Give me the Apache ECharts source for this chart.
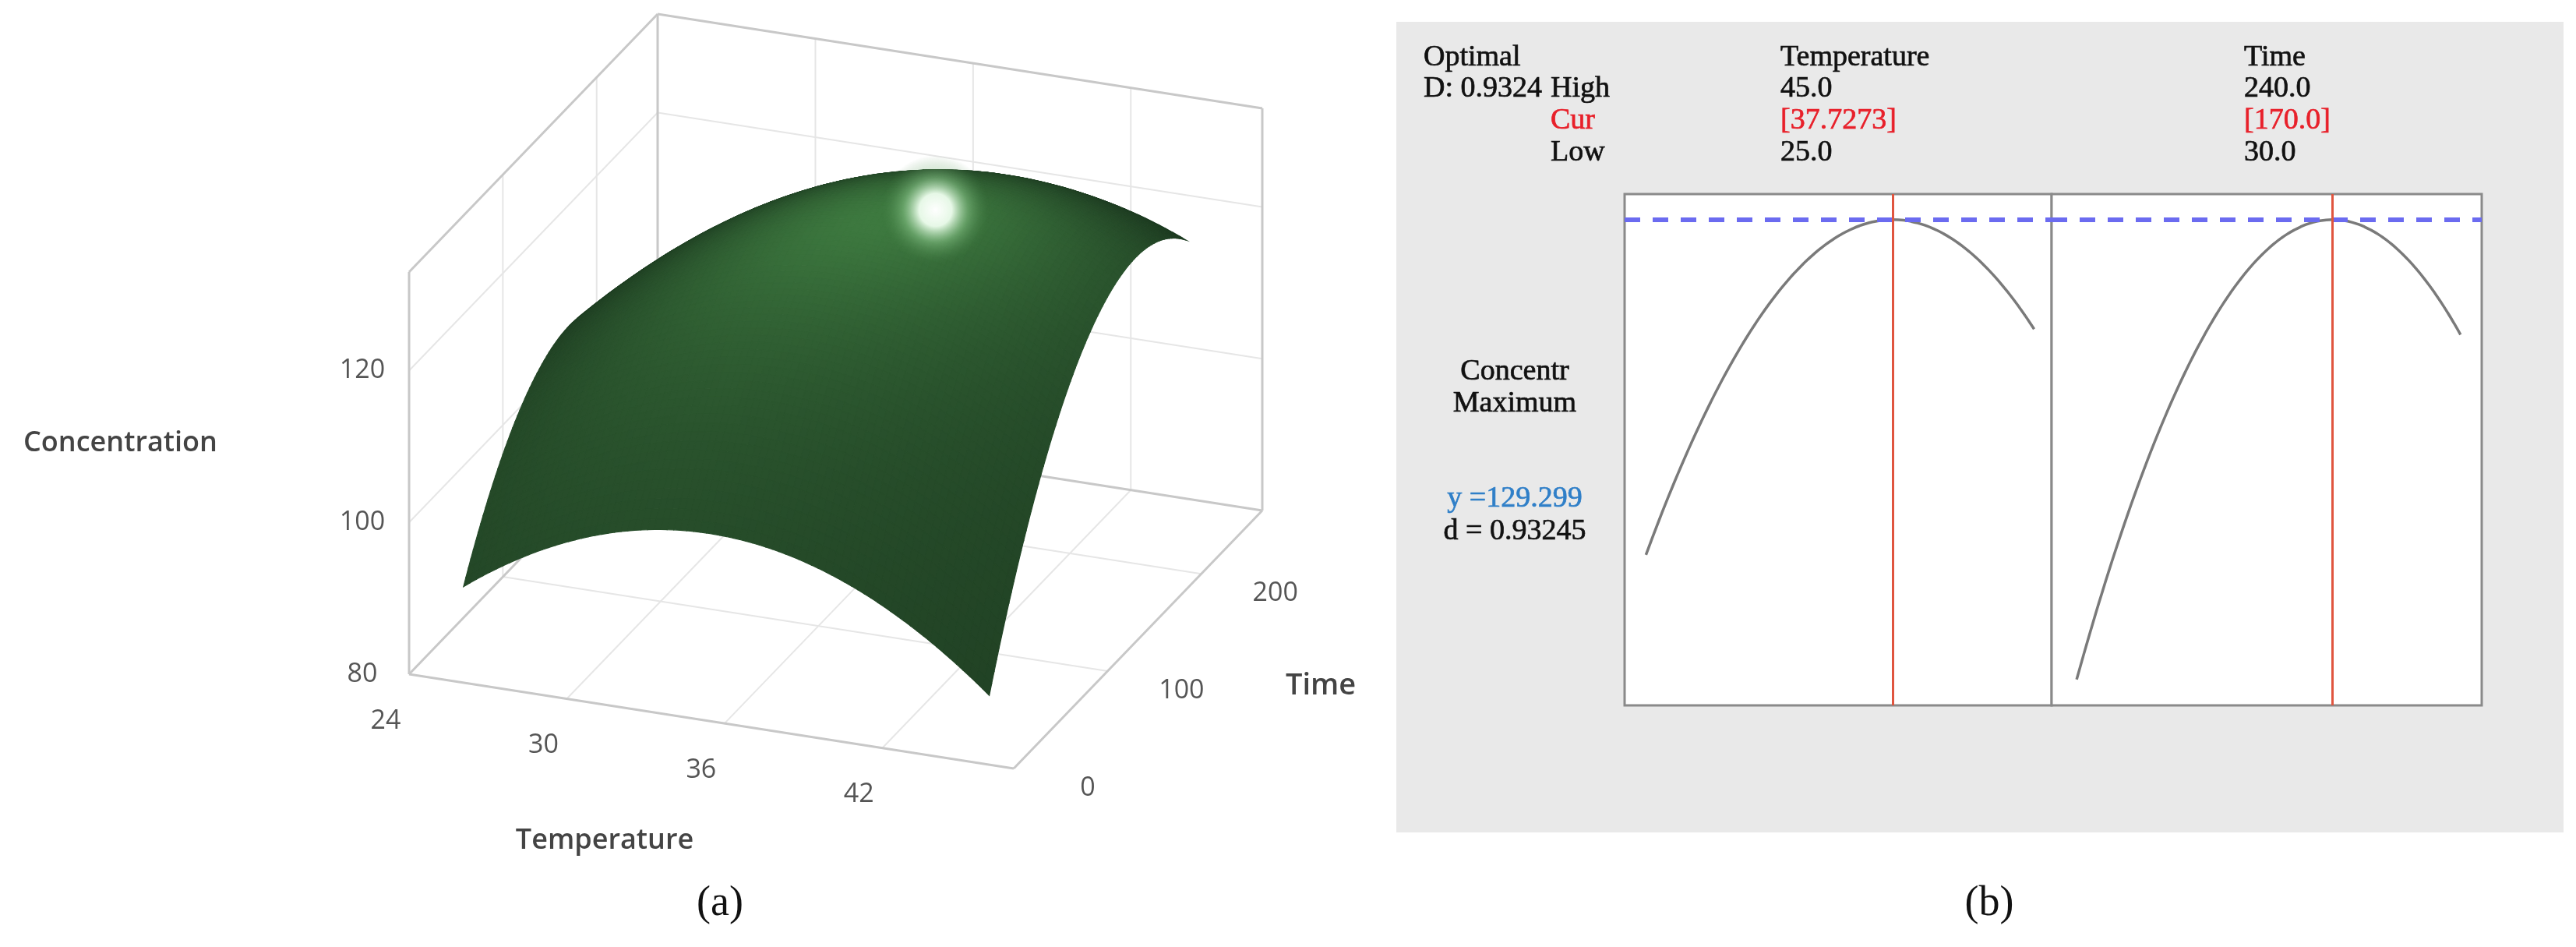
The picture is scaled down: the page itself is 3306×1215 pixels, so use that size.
<!DOCTYPE html>
<html><head><meta charset="utf-8">
<script src="https://cdn.jsdelivr.net/npm/echarts@6/dist/echarts.min.js"></script>
<style>html,body{margin:0;background:#fff}#c{width:3306px;height:1215px}</style>
</head><body><div id="c"></div>
<script>
// Response surface model (quadratic): Concentration = f(Temperature, Time)
const modelPeak = [37.7273, 170.0, 129.299]; // T*, t*, y*
const modelCoef = [0.1376, 0.00156, 0.00662]; // A (T^2), B (t^2), C (T*t interaction)
const tempRange = [25, 45];
const timeRange = [30, 240];
const tempTicks = [24, 30, 36, 42];
const timeTicks = [0, 100, 200];
const concTicks = [80, 100, 120];
const optRows = ['High', 'Cur', 'Low'];
const tempVals = ['45.0', '[37.7273]', '25.0'];
const timeVals = ['240.0', '[170.0]', '30.0'];
const optD = 'D: 0.9324';
const yOpt = 'y =129.299';
const dOpt = 'd = 0.93245';
const glowAt = [36, 200]; // surface point of the specular glow

function model(T, t) {
  const dT = T - modelPeak[0], dt = t - modelPeak[1];
  return modelPeak[2] - modelCoef[0]*dT*dT - modelCoef[1]*dt*dt + modelCoef[2]*dT*dt;
}
const box = {T:[24,47], t:[0,265], z:[80,133]};
function proj(T, t, z) {
  const u = (T-box.T[0])/(box.T[1]-box.T[0]), w = (t-box.t[0])/(box.t[1]-box.t[0]), h = (z-box.z[0])/(box.z[1]-box.z[0]);
  return [525 + 776*u + 319*w, 865 + 121*u - 331*w - 516*h];
}
const N = 80;
const cells = [];
for (let j = N-1; j >= 0; j--) for (let i = 0; i < N; i++) cells.push([i, j]);
const dTs = (tempRange[1]-tempRange[0])/N, dts = (timeRange[1]-timeRange[0])/N;
function L(v){const m=Math.hypot(...v);return v.map(x=>x/m);}
function normalAt(T,t){
  const e=0.01;
  const dzdT=(model(T+e,t)-model(T-e,t))/(2*e), dzdt=(model(T,t+e)-model(T,t-e))/(2*e);
  const sT=(box.T[1]-box.T[0])/(box.z[1]-box.z[0]), st=(box.t[1]-box.t[0])/(box.z[1]-box.z[0]);
  return L([-dzdT*sT,-dzdt*st,1]);
}
const light = L([0,-0.35,1]);
function dot(a,b){return a[0]*b[0]+a[1]*b[1]+a[2]*b[2];}
function shade(T,t){
  const n=normalAt(T,t);
  const dif=Math.max(0,dot(n,light));
  const k=Math.pow(dif,3);
  const d=[26,52,30], l=[62,122,64];
  const c=d.map((v,i)=>v+(l[i]-v)*k);
  return `rgb(${c[0]|0},${c[1]|0},${c[2]|0})`;
}
const boxLines = [];
function seg(a,b,col,w){boxLines.push({a,b,col,w});}
const Tb=box.T, tb=box.t, zb=box.z, EC='#c8c8c8', GC='#e6e6e6';
tempTicks.slice(1).forEach(T=>{seg([T,tb[1],zb[0]],[T,tb[1],zb[1]],GC,2);seg([T,tb[0],zb[0]],[T,tb[1],zb[0]],GC,2);});
timeTicks.slice(1).forEach(t=>{seg([Tb[0],t,zb[0]],[Tb[0],t,zb[1]],GC,2);seg([Tb[0],t,zb[0]],[Tb[1],t,zb[0]],GC,2);});
concTicks.slice(1).forEach(z=>{seg([Tb[0],tb[0],z],[Tb[0],tb[1],z],GC,2);seg([Tb[0],tb[1],z],[Tb[1],tb[1],z],GC,2);});
seg([Tb[0],tb[0],zb[0]],[Tb[0],tb[0],zb[1]],EC,3);
seg([Tb[0],tb[1],zb[0]],[Tb[0],tb[1],zb[1]],EC,3);
seg([Tb[1],tb[1],zb[0]],[Tb[1],tb[1],zb[1]],EC,3);
seg([Tb[0],tb[0],zb[1]],[Tb[0],tb[1],zb[1]],EC,3);
seg([Tb[0],tb[1],zb[1]],[Tb[1],tb[1],zb[1]],EC,3);
seg([Tb[0],tb[0],zb[0]],[Tb[0],tb[1],zb[0]],EC,3);
seg([Tb[0],tb[1],zb[0]],[Tb[1],tb[1],zb[0]],EC,3);
seg([Tb[0],tb[0],zb[0]],[Tb[1],tb[0],zb[0]],EC,3);
seg([Tb[1],tb[0],zb[0]],[Tb[1],tb[1],zb[0]],EC,3);
const tickTexts = [];
tempTicks.forEach(T=>tickTexts.push({p:[T,tb[0],zb[0]],s:String(T),dx:-30,dy:60}));
timeTicks.forEach(t=>tickTexts.push({p:[Tb[1],t,zb[0]],s:String(t),dx:95,dy:25}));
concTicks.forEach(z=>tickTexts.push({p:[Tb[0],tb[0],z],s:String(z),dx:-60,dy:0}));

const tProf=[], timeProf=[];
for(let k=0;k<=60;k++){const T=tempRange[0]+(tempRange[1]-tempRange[0])*k/60;tProf.push([T,model(T,modelPeak[1])]);}
for(let k=0;k<=60;k++){const t=timeRange[0]+(timeRange[1]-timeRange[0])*k/60;timeProf.push([t,model(modelPeak[0],t)]);}

const chart = echarts.init(document.getElementById('c'));
const serif = 'Liberation Serif', sans = 'Open Sans';
const txt = (x,y,s,o={})=>({type:'text',x,y,style:Object.assign({text:s,fill:'#111',font:`38px "${serif}"`,textVerticalAlign:'middle',stroke:o.fill||'#111',lineWidth:0.7},o)});
const graphics = [
  {type:'rect',z:-10,shape:{x:1792,y:28,width:1498,height:1040},style:{fill:'#e9e9e9'}},
  txt(1827,74,'Optimal'), txt(1827,114,optD), txt(1990,114,optRows[0]),
  txt(1990,155,optRows[1],{fill:'#e8202a',stroke:'#e8202a'}), txt(1990,196,optRows[2]),
  txt(2285,74,'Temperature'), txt(2285,114,tempVals[0]), txt(2285,155,tempVals[1],{fill:'#e8202a',stroke:'#e8202a'}), txt(2285,196,tempVals[2]),
  txt(2880,74,'Time'), txt(2880,114,timeVals[0]), txt(2880,155,timeVals[1],{fill:'#e8202a',stroke:'#e8202a'}), txt(2880,196,timeVals[2]),
  txt(1944,477,'Concentr',{textAlign:'center'}), txt(1944,518,'Maximum',{textAlign:'center'}),
  txt(1944,640,yOpt,{textAlign:'center',fill:'#2f7fc8',stroke:'#2f7fc8'}), txt(1944,682,dOpt,{textAlign:'center'}),
  txt(2553,1160,'(b)',{textAlign:'center',font:`54px "${serif}"`,lineWidth:0}),
  txt(924,1160,'(a)',{textAlign:'center',font:`54px "${serif}"`,lineWidth:0}),
  txt(30,569,'Concentration',{font:`600 36px "${sans}"`,fill:'#444',lineWidth:0}),
  txt(776,1079,'Temperature',{textAlign:'center',font:`600 36px "${sans}"`,fill:'#444',lineWidth:0}),
  txt(1650,880,'Time',{font:`600 38px "${sans}"`,fill:'#444',lineWidth:0})
];

chart.setOption({
  animation:false,
  graphic: graphics,
  grid:[
    {left:0,top:0,width:3306,height:1215,show:false},
    {left:2085,top:249,width:548,height:656,show:true,backgroundColor:'#fff',borderColor:'#8a8a8a',borderWidth:3},
    {left:2633,top:249,width:552,height:656,show:true,backgroundColor:'#fff',borderColor:'#8a8a8a',borderWidth:3}
  ],
  xAxis:[
    {gridIndex:0,type:'value',min:0,max:3306,show:false},
    {gridIndex:1,type:'value',min:23.9,max:45.9,show:false},
    {gridIndex:2,type:'value',min:16.3,max:251.6,show:false}
  ],
  yAxis:[
    {gridIndex:0,type:'value',min:0,max:1215,inverse:true,show:false},
    {gridIndex:1,type:'value',min:97,max:131,show:false},
    {gridIndex:2,type:'value',min:97,max:131,show:false}
  ],
  series:[
    {type:'custom',xAxisIndex:0,yAxisIndex:0,data:boxLines.map((_,i)=>i),z:1,silent:true,
     renderItem:(p,api)=>{const l=boxLines[api.value(0)];const A=api.coord(proj(...l.a)),B=api.coord(proj(...l.b));
       return {type:'line',shape:{x1:A[0],y1:A[1],x2:B[0],y2:B[1]},style:{stroke:l.col,lineWidth:l.w}};}},
    {type:'custom',xAxisIndex:0,yAxisIndex:0,data:tickTexts.map((_,i)=>i),z:2,silent:true,
     renderItem:(p,api)=>{const k=tickTexts[api.value(0)];const A=api.coord(proj(...k.p));
       return {type:'text',x:A[0]+k.dx,y:A[1]+k.dy,style:{text:k.s,fill:'#555',font:`34px "${sans}"`,textAlign:'center',textVerticalAlign:'middle'}};}},
    {type:'custom',xAxisIndex:0,yAxisIndex:0,data:cells,z:3,silent:true,
     renderItem:(p,api)=>{const i=api.value(0),j=api.value(1);
       const T0=tempRange[0]+i*dTs,T1=T0+dTs,t0=timeRange[0]+j*dts,t1=t0+dts;
       const pts=[[T0,t0],[T1,t0],[T1,t1],[T0,t1]].map(q=>api.coord(proj(q[0],q[1],model(q[0],q[1]))));
       const c=shade((T0+T1)/2,(t0+t1)/2);
       return {type:'polygon',shape:{points:pts},style:{fill:c,stroke:c,lineWidth:1.2}};}},
    {type:'custom',xAxisIndex:0,yAxisIndex:0,data:[glowAt],z:4,silent:true,
     renderItem:(p,api)=>{const T=api.value(0),t=api.value(1);const A=api.coord(proj(T,t,model(T,t)));
       return {type:'circle',shape:{cx:A[0]+30,cy:A[1]+50,r:70},style:{fill:new echarts.graphic.RadialGradient(0.5,0.5,0.5,[
         {offset:0,color:'rgba(255,255,255,1)'},{offset:0.3,color:'rgba(240,255,240,0.95)'},{offset:0.6,color:'rgba(150,210,150,0.45)'},{offset:1,color:'rgba(70,130,70,0)'}])}};}},
    {type:'line',xAxisIndex:1,yAxisIndex:1,data:tProf,showSymbol:false,smooth:true,lineStyle:{color:'#7a7a7a',width:3.5},
     markLine:{symbol:'none',silent:true,label:{show:false},data:[
       {yAxis:modelPeak[2],lineStyle:{color:'#6b6bf0',type:[20,16],width:6}},
       {xAxis:modelPeak[0],lineStyle:{color:'#e0553f',type:'solid',width:3}}]}},
    {type:'line',xAxisIndex:2,yAxisIndex:2,data:timeProf,showSymbol:false,smooth:true,lineStyle:{color:'#7a7a7a',width:3.5},
     markLine:{symbol:'none',silent:true,label:{show:false},data:[
       {yAxis:modelPeak[2],lineStyle:{color:'#6b6bf0',type:[20,16],width:6}},
       {xAxis:modelPeak[1],lineStyle:{color:'#e0553f',type:'solid',width:3}}]}}
  ]
});
</script></body></html>
